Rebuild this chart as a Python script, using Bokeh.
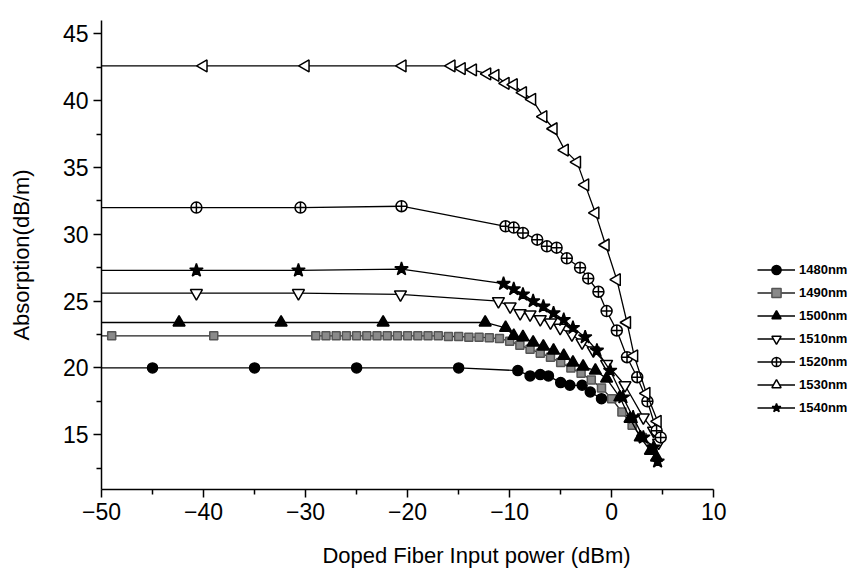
import numpy as np
from bokeh.plotting import figure
from bokeh.models import Range1d, Legend, LegendItem, FixedTicker
from bokeh.embed import file_html
from bokeh.resources import INLINE

# ---- data ----
X_MIN, X_MAX = -50, 10
Y_MIN, Y_MAX = 10.9, 46

x1480 = [-45, -35, -25, -15, -9.2, -8.0, -7.0, -6.2, -5.0, -4.1, -2.9, -2.1, -1.0]
y1480 = [20.0, 20.0, 20.0, 20.0, 19.8, 19.4, 19.5, 19.4, 18.9, 18.7, 18.7, 18.2, 17.7]

x1490 = [-49, -39, -29, -28, -27, -26, -25, -24, -23, -22, -21, -20, -19, -18, -17, -16, -15, -14,
         -13, -12, -11, -10, -9, -8, -7, -6, -5, -4, -3, -2, -1, 0, 1, 2, 3, 4]
y1490 = [22.4, 22.4, 22.4, 22.4, 22.4, 22.4, 22.4, 22.4, 22.4, 22.4, 22.4, 22.4, 22.4, 22.4, 22.4, 22.35, 22.35, 22.3,
         22.3, 22.25, 22.2, 22.0, 21.7, 21.4, 21.1, 20.8, 20.4, 20.0, 19.6, 19.1, 18.5, 17.7, 16.7, 15.7, 14.8, 14.0]

x1500 = [-42.4, -32.4, -22.4, -12.4, -10.4, -9.6, -8.7, -7.7, -6.7, -5.7, -4.7, -3.8, -2.8, -1.6, -0.5,
         0.8, 1.8, 2.8, 3.8, 4.4]
y1500 = [23.4, 23.4, 23.4, 23.4, 23.0, 22.4, 22.3, 21.9, 21.6, 21.3, 20.9, 20.4, 20.1, 19.8, 19.2,
         17.8, 16.2, 14.8, 13.8, 13.3]

x1510 = [-40.7, -30.7, -20.7, -11.1, -9.95, -8.97, -8.0, -7.0, -6.0, -5.05, -3.9, -2.9, -1.8, -0.5,
         1.3, 3.1, 4.1, 4.6]
y1510 = [25.6, 25.6, 25.5, 25.0, 24.6, 24.1, 24.0, 23.65, 23.4, 23.0, 22.5, 21.9, 21.3, 20.3,
         18.7, 16.3, 15.3, 14.4]

x1520 = [-40.7, -30.5, -20.6, -10.4, -9.6, -8.7, -7.3, -6.35, -5.4, -4.4, -3.1, -2.3, -1.3, -0.5,
         0.5, 1.5, 2.5, 3.5, 4.4, 4.8]
y1520 = [32.0, 32.0, 32.1, 30.6, 30.5, 30.1, 29.6, 29.1, 29.0, 28.2, 27.5, 26.7, 25.7, 24.25,
         22.8, 20.8, 19.3, 17.5, 15.3, 14.8]

x1530 = [-40, -30, -20.5, -15.7, -14.7, -13.6, -12.2, -11.4, -10.4, -9.6, -8.7, -7.8, -6.7, -5.7,
         -4.6, -3.4, -2.6, -1.6, -0.6, 0.5, 1.5, 2.2, 3.4, 4.5]
y1530 = [42.6, 42.6, 42.6, 42.6, 42.4, 42.3, 42.0, 41.9, 41.3, 41.2, 40.6, 40.1, 38.8, 37.9,
         36.3, 35.4, 33.7, 31.6, 29.2, 26.6, 23.4, 20.9, 18.1, 16.0]

x1540 = [-40.7, -30.7, -20.6, -10.6, -9.6, -8.7, -7.7, -6.7, -5.7, -4.7, -3.8, -2.6, -1.45, -0.15,
         1.1, 2.1, 3.1, 4.1, 4.5]
y1540 = [27.3, 27.3, 27.4, 26.3, 25.9, 25.5, 25.0, 24.6, 24.1, 23.6, 23.0, 22.3, 21.3, 19.8,
         17.8, 16.3, 14.8, 14.05, 13.0]

labels = ["1480nm", "1490nm", "1500nm", "1510nm", "1520nm", "1530nm", "1540nm"]
xs = [x1480, x1490, x1500, x1510, x1520, x1530, x1540]
ys = [y1480, y1490, y1500, y1510, y1520, y1530, y1540]

x_ticks = [-50, -40, -30, -20, -10, 0, 10]
y_ticks = [15, 20, 25, 30, 35, 40, 45]

# ---- styles ----
styles = [
    dict(marker="circle", size=10, fill_color="black", line_color="black", angle=0.0, lc="black"),
    dict(marker="square", size=8, fill_color="#8a8a8a", line_color="#555555", angle=0.0, lc="#222222"),
    dict(marker="triangle", size=12, fill_color="black", line_color="black", angle=0.0, lc="black"),
    dict(marker="inverted_triangle", size=12, fill_color="white", line_color="black", angle=0.0, lc="black"),
    dict(marker="circle_cross", size=11, fill_color="white", line_color="black", angle=0.0, lc="black"),
    dict(marker="triangle", size=12, fill_color="white", line_color="black", angle=np.pi / 2, lc="black"),
    dict(marker="star", size=14, fill_color="black", line_color="black", angle=0.0, lc="black"),
]

FONT = "Liberation Sans"

p = figure(width=851, height=575, output_backend="svg", toolbar_location=None,
           x_range=Range1d(X_MIN, 23.5), y_range=Range1d(Y_MIN, Y_MAX),
           min_border_left=101, min_border_right=0, min_border_top=20, min_border_bottom=86)
p.outline_line_color = None
p.grid.visible = False
p.background_fill_color = "white"
p.border_fill_color = "white"

items = []
for lab, x, y, st in zip(labels, xs, ys, styles):
    lx = [X_MIN] + list(x)
    ly = [y[0]] + list(y)
    r_line = p.line(lx, ly, line_color=st["lc"], line_width=1.3)
    r_pts = p.scatter(x, y, marker=st["marker"], size=st["size"], fill_color=st["fill_color"],
                      line_color=st["line_color"], line_width=1.5, angle=st["angle"])
    items.append(LegendItem(label=lab, renderers=[r_line, r_pts]))

legend = Legend(items=items, location=(656, 70), orientation="vertical",
                glyph_width=38, glyph_height=23, spacing=0, padding=0, margin=0,
                label_standoff=4, label_text_font=FONT, label_text_font_size="13px",
                label_text_font_style="bold", label_text_color="black", label_height=23,
                border_line_color=None, background_fill_alpha=0)
p.add_layout(legend, "center")

for ax in (p.xaxis[0], p.yaxis[0]):
    ax.axis_line_width = 1.5
    ax.major_tick_line_width = 1.5
    ax.minor_tick_line_width = 1.5
    ax.major_tick_out = 8
    ax.major_tick_in = 0
    ax.minor_tick_out = 5
    ax.minor_tick_in = 0
    ax.major_label_text_font = FONT
    ax.major_label_text_font_size = "23px"
    ax.major_label_text_color = "black"
    ax.axis_label_text_font = FONT
    ax.axis_label_text_font_size = "22px"
    ax.axis_label_text_font_style = "normal"
    ax.axis_label_text_color = "black"

p.xaxis.ticker = FixedTicker(ticks=x_ticks, minor_ticks=[-45, -35, -25, -15, -5, 5])
p.yaxis.ticker = FixedTicker(ticks=y_ticks, minor_ticks=[12.5, 17.5, 22.5, 27.5, 32.5, 37.5, 42.5])
p.xaxis.bounds = (X_MIN, X_MAX)
p.yaxis.bounds = (Y_MIN, Y_MAX)
p.xaxis.axis_label = "Doped Fiber Input power (dBm)"
p.yaxis.axis_label = "Absorption(dB/m)"
p.xaxis.major_label_standoff = 5
p.yaxis.major_label_standoff = 5
p.xaxis.axis_label_standoff = 20
p.yaxis.axis_label_standoff = 26

open("out.html", "w").write(file_html(p, INLINE))
